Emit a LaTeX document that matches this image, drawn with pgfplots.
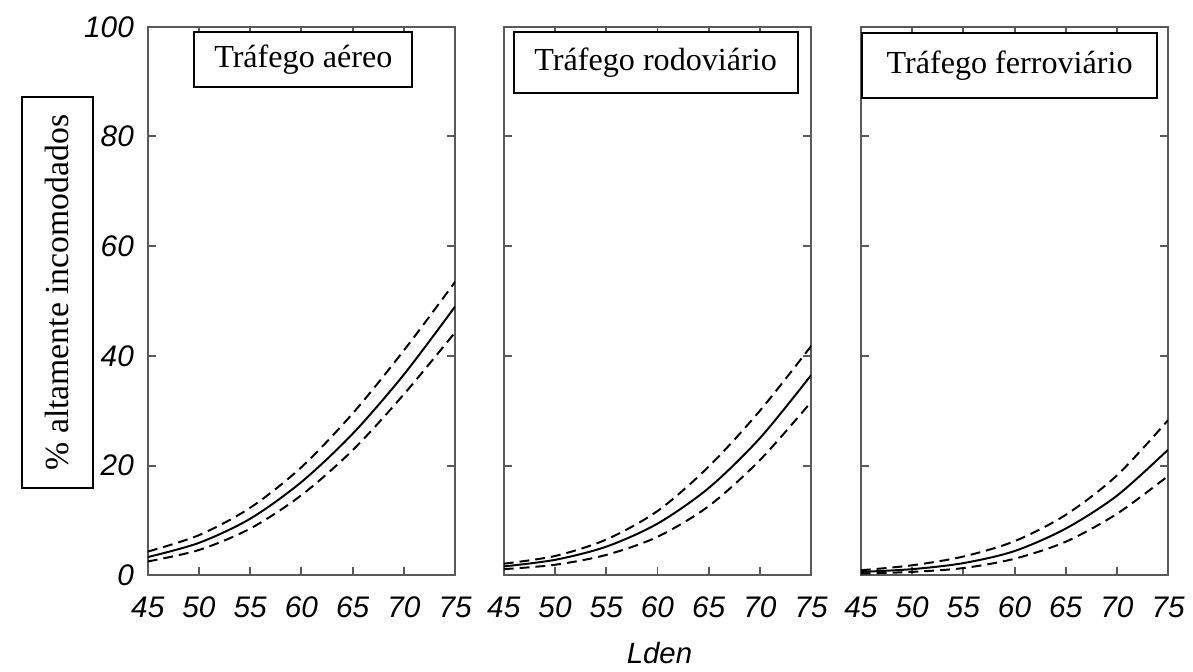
\documentclass[border=0pt]{standalone}
\usepackage{fontspec}
\setmainfont{Liberation Serif}
\setsansfont{Liberation Sans}
\usepackage{pgfplots}
\pgfplotsset{compat=1.18}
\begin{document}
\pgfplotsset{
  panel/.style={
    scale only axis, width=155pt, height=276.5pt,
    xmin=45, xmax=75, ymin=0, ymax=100,
    xtick={45,50,...,75}, ytick={0,20,...,100},
    tick align=inside, major tick length=4pt,
    axis line style={draw=black!65, line width=1pt},
    major tick style={draw=black!65, line width=1pt},
    /pgf/number format/assume math mode=true,
    ticklabel style={font=\sffamily\itshape\fontsize{15}{15}\selectfont},
    xticklabel style={yshift=-7.5pt},
    yticklabel style={xshift=-3.5pt},
    clip=true,
  },
}
\tikzset{
  mid/.style={black, line width=1pt, smooth},
  ci/.style={black, line width=1pt, smooth, dash pattern=on 5pt off 3pt},
  lab/.style={draw=black, line width=1pt, inner sep=0pt, fill=white,
    font=\fontsize{16.2}{16.2}\selectfont},
}
\begin{tikzpicture}
\useasboundingbox (0pt,0pt) rectangle (596.5pt,338.5pt);
% Panel 1: aircraft
\begin{axis}[panel, at={(69.5pt,48.5pt)}, anchor=south west]
\addplot[mid] coordinates {(45,3.3) (50,5.9) (55,10.3) (60,17.0) (65,25.8) (70,36.6) (75,49.0)};
\addplot[ci] coordinates {(45,4.3) (50,7.3) (55,12.3) (60,19.7) (65,29.5) (70,41.0) (75,53.5)};
\addplot[ci] coordinates {(45,2.5) (50,4.6) (55,8.5) (60,14.6) (65,22.8) (70,33.0) (75,44.3)};
\node[lab, minimum width=110pt, minimum height=28pt] at (rel axis cs:0.506,0.940) {Tráfego aéreo};
\end{axis}
% Panel 2: road
\begin{axis}[panel, at={(249pt,48.5pt)}, anchor=south west, yticklabels={}]
\addplot[mid] coordinates {(45,1.6) (50,2.8) (55,5.2) (60,9.4) (65,15.9) (70,25.0) (75,36.5)};
\addplot[ci] coordinates {(45,2.1) (50,3.5) (55,6.5) (60,11.7) (65,19.8) (70,30.0) (75,41.8)};
\addplot[ci] coordinates {(45,1.1) (50,1.9) (55,3.7) (60,7.0) (65,12.6) (70,21.0) (75,31.6)};
\node[lab, minimum width=143.3pt, minimum height=31pt] at (rel axis cs:0.494,0.935) {Tráfego rodoviário};
\end{axis}
% Panel 3: rail
\begin{axis}[panel, at={(429pt,48.5pt)}, anchor=south west, yticklabels={}]
\addplot[mid] coordinates {(45,0.6) (50,1.1) (55,2.2) (60,4.4) (65,8.5) (70,14.5) (75,22.9)};
\addplot[ci] coordinates {(45,0.9) (50,1.8) (55,3.4) (60,6.2) (65,11.0) (70,18.2) (75,28.3)};
\addplot[ci] coordinates {(45,0.3) (50,0.6) (55,1.3) (60,3.0) (65,6.1) (70,11.2) (75,18.1)};
\node[lab, minimum width=148.5pt, minimum height=33pt] at (rel axis cs:0.484,0.929) {Tráfego ferroviário};
\end{axis}
% x label
\node[anchor=north, inner sep=0pt, font=\sffamily\itshape\fontsize{14.8}{14.8}\selectfont] at (327.5pt,15pt) {Lden};
% y label box
\node[draw=black, line width=1pt, rotate=90, minimum width=197pt, minimum height=36pt, inner sep=0pt,
  font=\fontsize{17}{17}\selectfont] at (24pt,191pt) {\% altamente incomodados};
\end{tikzpicture}
\end{document}
